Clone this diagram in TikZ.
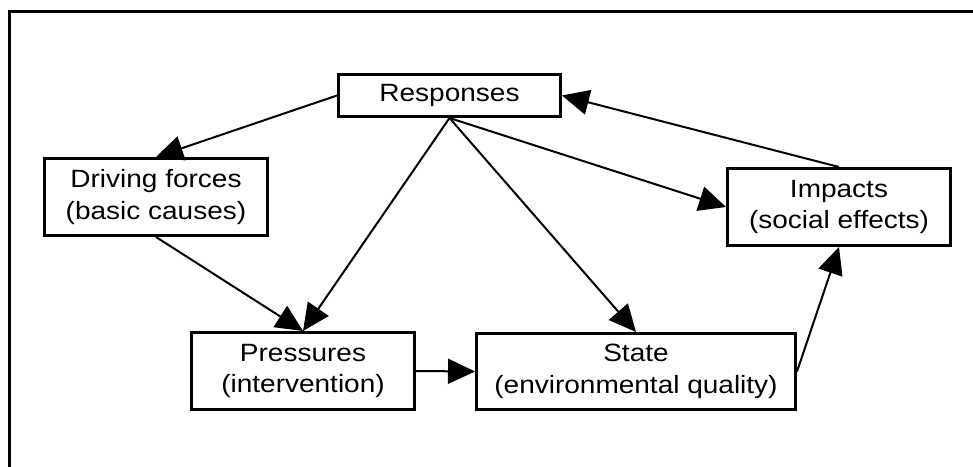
\documentclass[tikz,border=0pt]{standalone}
\usepackage{fontspec}
\setmainfont{Liberation Sans}[FakeStretch=1.12]
\usetikzlibrary{arrows.meta}
\begin{document}
\begin{tikzpicture}[x=1pt,y=-1pt,
  box/.style={draw, line width=3pt, rectangle, align=center, inner sep=0pt,
    font=\fontsize{25}{31.5}\selectfont},
  conn/.style={line width=2pt, -{Triangle[length=27pt,width=25pt]}}]
\useasboundingbox (0,0) rectangle (973,466);
\clip (0,0) rectangle (973,466);
\fill[white] (0,0) rectangle (973,466);
\draw[line width=3pt] (9.5,600) |- (1100,11.5);
\node[box, minimum width=222pt, minimum height=42pt] (resp) at (449.5,95.5) {Responses};
\node[box, minimum width=223pt, minimum height=77pt] (drive) at (156,197) {Driving forces\\(basic causes)};
\node[box, minimum width=223pt, minimum height=77pt] (press) at (303,371) {Pressures\\(intervention)};
\node[box, minimum width=319pt, minimum height=76pt] (state) at (636,371.5) {State\\(environmental quality)};
\node[box, minimum width=223pt, minimum height=77pt] (imp) at (839,207) {Impacts\\(social effects)};
\draw[conn] (resp.west) -- (drive.north);
\draw[conn] (drive.south) -- (press.north);
\draw[conn] (resp.south) -- (press.north);
\draw[conn] (resp.south) -- (state.north);
\draw[conn] (resp.south) -- (imp.west);
\draw[conn] (imp.north) -- (resp.east);
\draw[conn] (state.east) -- (imp.south);
\draw[conn] (press.east) -- (state.west);
\end{tikzpicture}
\end{document}
